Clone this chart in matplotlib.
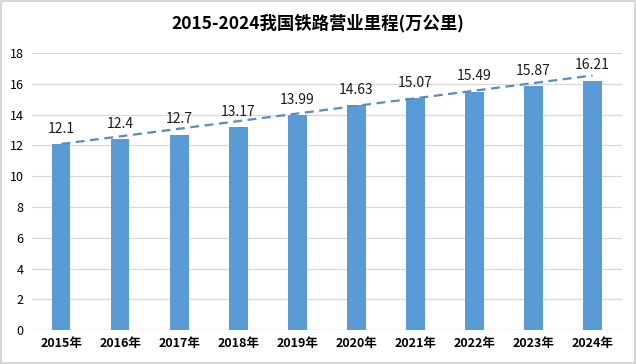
import matplotlib
matplotlib.use("Agg")
import matplotlib.pyplot as plt

plt.rcParams['font.family'] = ['Noto Sans CJK SC', 'DejaVu Sans']

years = ["2015年", "2016年", "2017年", "2018年", "2019年",
         "2020年", "2021年", "2022年", "2023年", "2024年"]
mileage = [12.1, 12.4, 12.7, 13.17, 13.99, 14.63, 15.07, 15.49, 15.87, 16.21]
value_labels = ["12.1", "12.4", "12.7", "13.17", "13.99",
                "14.63", "15.07", "15.49", "15.87", "16.21"]
# dashed trend line as drawn in the source: first and last year only
trend_ends = [12.1, 16.55]
title = "2015-2024我国铁路营业里程(万公里)"

BAR = "#5B9BD5"
TREND = "#5A8AC6"

fig = plt.figure(figsize=(6.36, 3.64), dpi=100)
ax = fig.add_axes([0.050, 0.093, 0.928, 0.761])

x = list(range(len(years)))
bars = ax.bar(x, mileage, width=0.31, color=BAR, zorder=2)
ax.plot([x[0], x[-1]], trend_ends, linestyle=(0, (4, 2.5)), color=TREND,
        linewidth=1.6, zorder=3)

for bar, lab in zip(bars, value_labels):
    ax.annotate(lab, (bar.get_x() + bar.get_width() / 2, bar.get_height()),
                xytext=(0, 6), textcoords="offset points", ha="center",
                va="bottom", fontsize=10, fontweight="medium", color="#1A1A1A")

ax.set_xlim(-0.5, len(years) - 0.5)
ax.set_ylim(0, 18)
ax.set_yticks(range(0, 19, 2))
ax.set_xticks(x, years, fontsize=9, fontweight="bold")
ax.tick_params(axis="y", labelsize=9, length=0, pad=6)
ax.tick_params(axis="x", length=0, pad=5)
ax.grid(axis="y", color="#D9D9D9", linewidth=0.9, zorder=0)
for s in ax.spines.values():
    s.set_visible(False)
ax.axhline(0, color="#D9D9D9", linewidth=0.9, zorder=1)

fig.text(0.5, 0.935, title, ha="center", va="center", fontsize=12.5,
         fontweight="bold", color="black")

fig.patches.append(plt.Rectangle((0.002, 0.003), 0.996, 0.994,
                                 transform=fig.transFigure, fill=False,
                                 edgecolor="#D0D0D0", linewidth=1.2))

fig.savefig("out.png", dpi=100)
